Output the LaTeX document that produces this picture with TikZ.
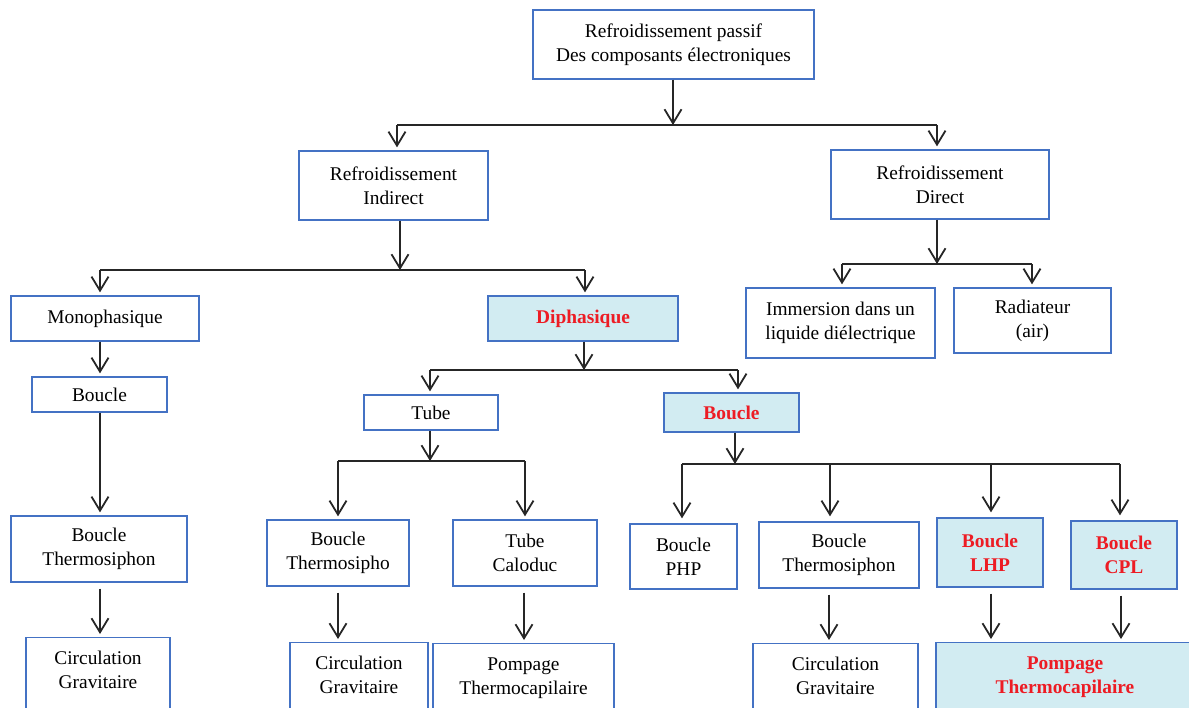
\documentclass[tikz,border=0pt]{standalone}
\usepackage{fontspec}
\setmainfont{Liberation Serif}
\usetikzlibrary{arrows.meta}
\definecolor{boxblue}{RGB}{68,114,196}
\definecolor{boxfill}{RGB}{210,236,242}
\definecolor{hired}{RGB}{237,28,36}

\begin{document}
\begin{tikzpicture}[
		x=1pt,y=-1pt,
		>={Straight Barb[length=14pt,width=17pt]},
		box/.style={draw=boxblue,line width=1.3pt,align=center,inner sep=2pt,font=\fontsize{19.4}{24}\selectfont},
		hibox/.style={box,fill=boxfill,text=hired,font=\bfseries\fontsize{19.4}{24}\selectfont},
		cutbox/.style={anchor=north,inner ysep=0pt,text height=50.5pt,text depth=56pt},
		bar/.style={line width=1.8pt,draw=black!85},
		feed/.style={bar,->},
		link/.style={feed,shorten >=3pt}
	]
	\useasboundingbox (0,0) rectangle (1189,707);
	\clip (0,0) rectangle (1189,707);

	% top
	\node[box,minimum width=281pt,minimum height=69pt] (root) at (673.5,44.5) {Refroidissement passif\\Des composants électroniques};
	\node[box,minimum width=189pt,minimum height=69pt] (indir) at (393.5,185.5) {Refroidissement\\Indirect};
	\node[box,minimum width=218pt,minimum height=69pt] (direct) at (940,184.5) {Refroidissement\\Direct};

	\coordinate (j0) at (673,125);
	\coordinate (j0l) at (397,125);
	\coordinate (j0r) at (937,125);
	\draw[feed] (root.south -| j0) -- (j0);
	\draw[bar] (j0l) -- (j0r);
	\draw[link] (j0l) -- (j0l |- indir.north);
	\draw[link] (j0r) -- (j0r |- direct.north);

	% second level
	\node[box,minimum width=188pt,minimum height=45pt] (mono) at (105,318.5) {Monophasique};
	\node[hibox,minimum width=190pt,minimum height=45pt] (diph) at (583,318.5) {Diphasique};
	\node[box,minimum width=189pt,minimum height=70pt] (immer) at (840.5,323) {Immersion dans un\\liquide diélectrique};
	\node[box,minimum width=157pt,minimum height=65pt] (radia) at (1032.5,320.5) {Radiateur\\(air)};

	\coordinate (j1) at (400,270);
	\coordinate (j1l) at (100,270);
	\coordinate (j1r) at (585,270);
	\draw[feed] (indir.south -| j1) -- (j1);
	\draw[bar] (j1l) -- (j1r);
	\draw[link] (j1l) -- (j1l |- mono.north);
	\draw[link] (j1r) -- (j1r |- diph.north);

	\coordinate (j2) at (937,264);
	\coordinate (j2l) at (842,264);
	\coordinate (j2r) at (1032,264);
	\draw[feed] (direct.south -| j2) -- (j2);
	\draw[bar] (j2l) -- (j2r);
	\draw[link] (j2l) -- (j2l |- immer.north);
	\draw[link] (j2r) -- (j2r |- radia.north);

	% monophasique branch
	\node[box,minimum width=135pt,minimum height=35pt] (boucA) at (99.5,394.5) {Boucle};
	\node[box,minimum width=176pt,minimum height=66pt] (thermA) at (99,549) {Boucle\\Thermosiphon};
	\node[box,cutbox,minimum width=144pt] (circA) at (98,637) {Circulation\\Gravitaire};
	\draw[link] (mono.south -| 100,0) -- (boucA.north -| 100,0);
	\draw[link] (boucA.south -| 100,0) -- (thermA.north -| 100,0);
	\draw[link,shorten <=6pt] (thermA.south -| 100,0) -- (circA.north -| 100,0);

	% diphasique branch
	\node[box,minimum width=134pt,minimum height=35pt] (tube) at (431,412.5) {Tube};
	\node[hibox,minimum width=135pt,minimum height=39pt] (boucB) at (731.5,412.5) {Boucle};

	\coordinate (j3) at (584,370);
	\coordinate (j3l) at (430,370);
	\coordinate (j3r) at (738,370);
	\draw[feed] (diph.south -| j3) -- (j3);
	\draw[bar] (j3l) -- (j3r);
	\draw[link] (j3l) -- (j3l |- tube.north);
	\draw[link] (j3r) -- (j3r |- boucB.north);

	\node[box,minimum width=142pt,minimum height=66pt] (thermB) at (338,553) {Boucle\\Thermosipho};
	\node[box,minimum width=144pt,minimum height=66pt] (calo) at (525,553) {Tube\\Caloduc};

	\coordinate (j4) at (430,461);
	\coordinate (j4l) at (338,461);
	\coordinate (j4r) at (525,461);
	\draw[feed] (tube.south -| j4) -- (j4);
	\draw[bar] (j4l) -- (j4r);
	\draw[link] (j4l) -- (j4l |- thermB.north);
	\draw[link] (j4r) -- (j4r |- calo.north);

	\node[box,minimum width=107pt,minimum height=65pt] (php) at (683.5,556.5) {Boucle\\PHP};
	\node[box,minimum width=160pt,minimum height=66pt] (thermC) at (839,555) {Boucle\\Thermosiphon};
	\node[hibox,minimum width=106pt,minimum height=69pt] (lhp) at (990,552.5) {Boucle\\LHP};
	\node[hibox,minimum width=106pt,minimum height=68pt] (cpl) at (1124,555) {Boucle\\CPL};

	\coordinate (j5) at (735,464);
	\coordinate (j5l) at (682,464);
	\coordinate (j5r) at (1120,464);
	\draw[feed] (boucB.south -| j5) -- (j5);
	\draw[bar] (j5l) -- (j5r);
	\foreach \x/\n in {682/php,830/thermC,991/lhp,1120/cpl}
		\draw[link,shorten >=5pt] (\x,464) -- (\n.north -| \x,464);

	% bottom row
	\node[box,cutbox,minimum width=138pt] (circB) at (359,642) {Circulation\\Gravitaire};
	\node[box,cutbox,minimum width=181pt] (pompB) at (523.5,643) {Pompage\\Thermocapilaire};
	\node[box,cutbox,minimum width=165pt] (circC) at (835.5,643) {Circulation\\Gravitaire};
	\node[hibox,cutbox,minimum width=258pt] (pompC) at (1065,642) {Pompage\\Thermocapilaire};

	\draw[link,shorten <=6pt] (thermB.south) -- (thermB.south |- circB.north);
	\draw[link,shorten <=6pt] (calo.south -| 524,0) -- (pompB.north -| 524,0);
	\draw[link,shorten <=6pt] (thermC.south -| 829,0) -- (circC.north -| 829,0);
	\draw[link,shorten <=6pt] (lhp.south -| 991,0) -- (pompC.north -| 991,0);
	\draw[link,shorten <=6pt] (cpl.south -| 1121,0) -- (pompC.north -| 1121,0);
\end{tikzpicture}
\end{document}
